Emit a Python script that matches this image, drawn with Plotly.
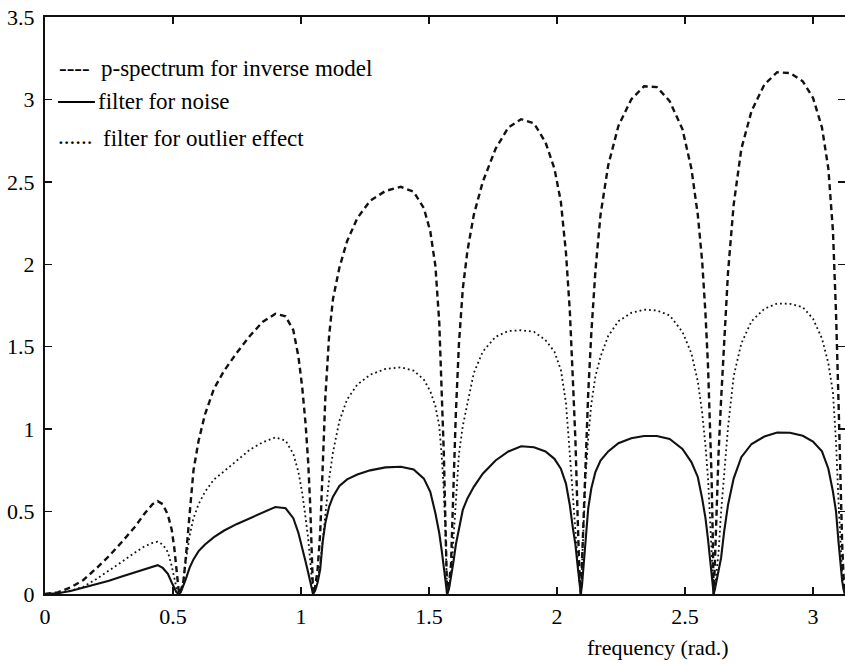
import plotly.graph_objects as go

# ---- data (frequency in radians) ----
freq = [
    # arch 1
    0, 0.05, 0.1, 0.15, 0.2, 0.25, 0.3, 0.35, 0.39, 0.42, 0.44, 0.46, 0.48, 0.495, 0.505, 0.513, 0.519, 0.5236,
    # arch 2
    0.53, 0.54, 0.55, 0.565, 0.58, 0.6, 0.625, 0.66, 0.70, 0.75, 0.80, 0.85, 0.90, 0.94, 0.97, 0.99, 1.005, 1.018, 1.028, 1.036, 1.042, 1.0472,
    # arch 3
    1.055, 1.065, 1.075, 1.085, 1.095, 1.11, 1.125, 1.15, 1.18, 1.22, 1.27, 1.33, 1.39, 1.44, 1.48, 1.505, 1.525, 1.54, 1.55, 1.558, 1.564, 1.5708,
    # arch 4
    1.578, 1.586, 1.595, 1.605, 1.617, 1.632, 1.65, 1.675, 1.71, 1.76, 1.81, 1.86, 1.91, 1.955, 1.99, 2.015, 2.035, 2.05, 2.062, 2.072, 2.08, 2.087, 2.093,
    # arch 5
    2.098, 2.104, 2.112, 2.122, 2.134, 2.15, 2.17, 2.2, 2.24, 2.29, 2.34, 2.39, 2.44, 2.49, 2.525, 2.55, 2.567, 2.58, 2.59, 2.598, 2.604, 2.608, 2.612,
    # arch 6
    2.617, 2.623, 2.631, 2.641, 2.653, 2.668, 2.69, 2.72, 2.76, 2.81, 2.86, 2.91, 2.96, 3.0, 3.035, 3.06, 3.078, 3.09, 3.10, 3.108, 3.114, 3.119, 3.124,
]

p_spectrum = [
    0, 0.01, 0.04, 0.085, 0.155, 0.23, 0.315, 0.405, 0.49, 0.545, 0.563, 0.545, 0.48, 0.39, 0.28, 0.14, 0.06, 0,
    0.02, 0.065, 0.22, 0.51, 0.75, 0.93, 1.09, 1.245, 1.355, 1.465, 1.565, 1.65, 1.70, 1.685, 1.60, 1.44, 1.25, 1.03, 0.80, 0.54, 0.28, 0,
    0.04, 0.15, 0.37, 0.81, 1.19, 1.57, 1.79, 1.98, 2.14, 2.28, 2.385, 2.445, 2.47, 2.44, 2.34, 2.20, 1.99, 1.65, 1.26, 0.85, 0.45, 0,
    0.06, 0.18, 0.62, 1.10, 1.52, 1.85, 2.08, 2.30, 2.50, 2.70, 2.83, 2.88, 2.855, 2.74, 2.58, 2.38, 2.07, 1.72, 1.30, 0.93, 0.50, 0.15, 0,
    0.22, 0.55, 0.88, 1.22, 1.58, 1.96, 2.30, 2.60, 2.84, 3.00, 3.08, 3.075, 2.99, 2.82, 2.58, 2.30, 2.02, 1.70, 1.38, 1.05, 0.70, 0.38, 0,
    0.20, 0.50, 0.85, 1.18, 1.55, 1.95, 2.36, 2.70, 2.93, 3.09, 3.165, 3.16, 3.11, 3.01, 2.83, 2.58, 2.20, 1.70, 1.15, 0.55, 0.30, 0.12, 0,
]

noise_filter = [
    0, 0.005, 0.018, 0.038, 0.058, 0.08, 0.106, 0.13, 0.152, 0.168, 0.175, 0.158, 0.122, 0.07, 0.035, 0.012, 0.004, 0,
    0.01, 0.045, 0.09, 0.16, 0.21, 0.26, 0.30, 0.345, 0.385, 0.425, 0.46, 0.49, 0.528, 0.52, 0.46, 0.37, 0.285, 0.195, 0.13, 0.075, 0.03, 0,
    0.02, 0.07, 0.15, 0.32, 0.43, 0.53, 0.59, 0.655, 0.695, 0.725, 0.75, 0.768, 0.772, 0.755, 0.70, 0.62, 0.49, 0.37, 0.26, 0.17, 0.10, 0,
    0.03, 0.10, 0.19, 0.30, 0.40, 0.51, 0.58, 0.65, 0.73, 0.81, 0.865, 0.896, 0.89, 0.865, 0.82, 0.76, 0.67, 0.54, 0.40, 0.30, 0.18, 0.07, 0,
    0.06, 0.17, 0.32, 0.52, 0.64, 0.74, 0.81, 0.865, 0.915, 0.945, 0.958, 0.958, 0.94, 0.88, 0.80, 0.71, 0.58, 0.46, 0.33, 0.21, 0.13, 0.06, 0,
    0.03, 0.08, 0.14, 0.22, 0.38, 0.54, 0.70, 0.83, 0.91, 0.955, 0.98, 0.978, 0.96, 0.925, 0.865, 0.76, 0.62, 0.50, 0.31, 0.15, 0.08, 0.03, 0,
]

outlier_filter = [
    0, 0.005, 0.02, 0.044, 0.09, 0.14, 0.195, 0.25, 0.29, 0.31, 0.317, 0.30, 0.255, 0.17, 0.09, 0.04, 0.015, 0,
    0.02, 0.08, 0.20, 0.355, 0.46, 0.545, 0.62, 0.695, 0.745, 0.81, 0.875, 0.92, 0.95, 0.93, 0.85, 0.74, 0.61, 0.46, 0.34, 0.20, 0.10, 0,
    0.03, 0.09, 0.18, 0.33, 0.50, 0.70, 0.86, 1.05, 1.18, 1.27, 1.33, 1.365, 1.375, 1.355, 1.30, 1.23, 1.14, 1.02, 0.83, 0.62, 0.38, 0,
    0.04, 0.12, 0.32, 0.55, 0.85, 1.02, 1.15, 1.34, 1.47, 1.56, 1.595, 1.60, 1.59, 1.54, 1.47, 1.36, 1.16, 0.87, 0.60, 0.38, 0.20, 0.08, 0,
    0.20, 0.45, 0.72, 0.95, 1.15, 1.32, 1.44, 1.565, 1.655, 1.705, 1.725, 1.72, 1.69, 1.59, 1.46, 1.29, 1.10, 0.90, 0.70, 0.45, 0.28, 0.13, 0,
    0.04, 0.12, 0.25, 0.50, 0.74, 1.01, 1.32, 1.52, 1.655, 1.73, 1.762, 1.76, 1.74, 1.67, 1.55, 1.40, 1.22, 0.92, 0.55, 0.25, 0.12, 0.05, 0,
]

x_ticks = [0, 0.5, 1, 1.5, 2, 2.5, 3]
x_tick_labels = ["0", "0.5", "1", "1.5", "2", "2.5", "3"]
y_ticks = [0, 0.5, 1, 1.5, 2, 2.5, 3, 3.5]
y_tick_labels = ["0", "0.5", "1", "1.5", "2", "2.5", "3", "3.5"]

legend_texts = ["p-spectrum for inverse model", "filter for noise", "filter for outlier effect"]
x_title = "frequency (rad.)"

SERIF = "Liberation Serif"
INK = "#111111"

fig = go.Figure()
fig.add_trace(go.Scatter(x=freq, y=p_spectrum, mode="lines", name=legend_texts[0],
                         line=dict(color=INK, width=2.4, dash="6px,4px")))
fig.add_trace(go.Scatter(x=freq, y=outlier_filter, mode="lines", name=legend_texts[2],
                         line=dict(color=INK, width=1.8, dash="1.8px,3px")))
fig.add_trace(go.Scatter(x=freq, y=noise_filter, mode="lines", name=legend_texts[1],
                         line=dict(color=INK, width=2.1)))

axis_common = dict(showline=True, linecolor=INK, linewidth=2, mirror="ticks",
                   ticks="inside", ticklen=7, tickwidth=1.5, tickcolor=INK,
                   showgrid=False, zeroline=False, automargin=False,
                   tickfont=dict(family=SERIF, size=22, color="#000000"))

fig.update_xaxes(range=[0, 3.125], tickvals=x_ticks, ticktext=x_tick_labels,
                 ticklabelstandoff=2, **axis_common)
fig.update_yaxes(range=[0, 3.5], tickvals=y_ticks, ticktext=y_tick_labels,
                 ticklabelstandoff=4, **axis_common)

ann_font = dict(family=SERIF, size=23, color="#000000")
annotations = [
    dict(x=0.047, y=3.19, xref="x", yref="y", text="----", showarrow=False,
         xanchor="left", yanchor="middle", font=ann_font),
    dict(x=0.211, y=3.19, xref="x", yref="y", text=legend_texts[0], showarrow=False,
         xanchor="left", yanchor="middle", font=ann_font),
    dict(x=0.199, y=2.985, xref="x", yref="y", text=legend_texts[1], showarrow=False,
         xanchor="left", yanchor="middle", font=ann_font),
    dict(x=0.043, y=2.775, xref="x", yref="y", text="......", showarrow=False,
         xanchor="left", yanchor="middle", font=ann_font),
    dict(x=0.219, y=2.765, xref="x", yref="y", text=legend_texts[2], showarrow=False,
         xanchor="left", yanchor="middle", font=ann_font),
    dict(x=2.393, y=-0.092, xref="x", yref="paper", text=x_title, showarrow=False,
         xanchor="center", yanchor="middle",
         font=dict(family=SERIF, size=22, color="#000000")),
]

shapes = [
    dict(type="line", xref="x", yref="y", x0=0.051, x1=0.195, y0=2.985, y1=2.985,
         line=dict(color="#000000", width=2)),
]

fig.update_layout(
    width=845, height=664, autosize=False,
    margin=dict(l=45, r=0, t=17, b=70, pad=0),
    paper_bgcolor="white", plot_bgcolor="white",
    showlegend=False,
    font=dict(family=SERIF),
    annotations=annotations, shapes=shapes,
)

fig.write_html("out.html", config={"displayModeBar": False, "staticPlot": True},
               post_script="document.body.style.margin='0px';")
